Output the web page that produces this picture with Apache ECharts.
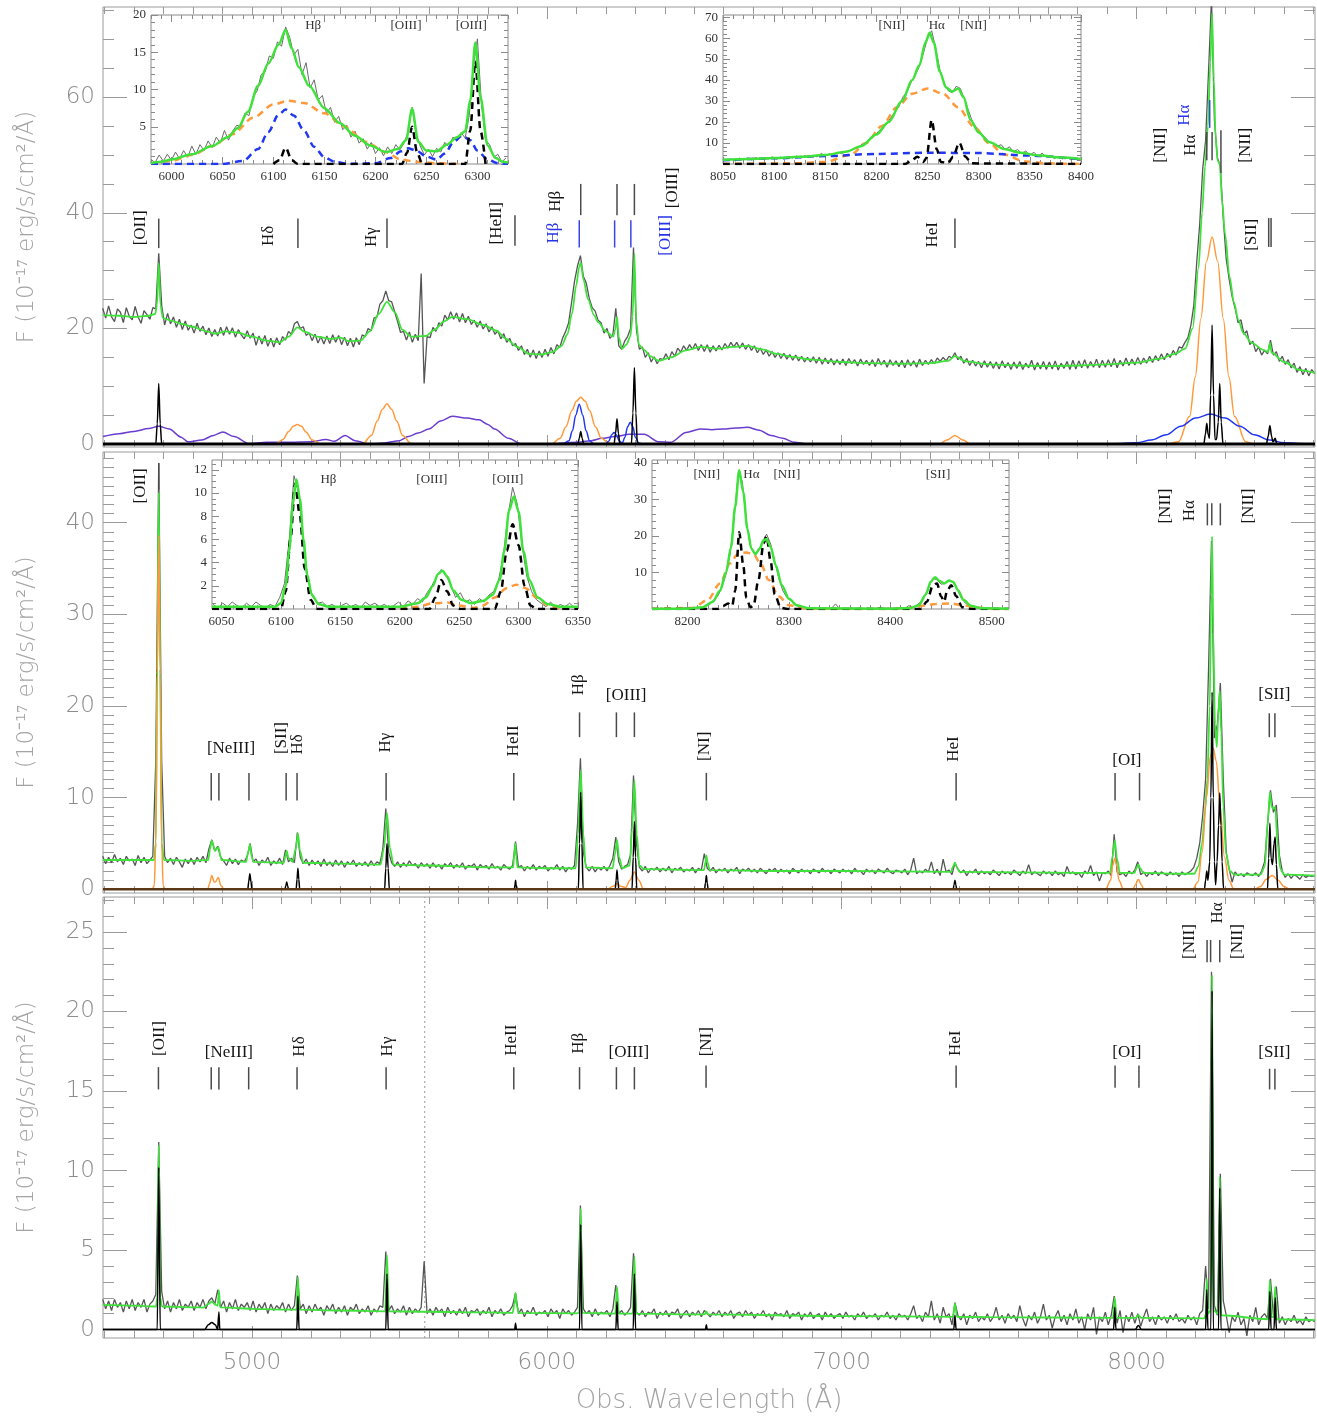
<!DOCTYPE html>
<html><head><meta charset="utf-8">
<script src="https://cdn.jsdelivr.net/npm/echarts/dist/echarts.min.js"></script>
<style>html,body{margin:0;padding:0;background:#fff}#c{width:1317px;height:1420px}</style>
</head><body><div id="c"></div>
<script>
// ---------------- DATA ----------------
const OBS_START = 4494, OBS_STEP = 10;   // wavelength grid of the observed spectra (Å)

// Panel 1 : observed spectrum (grey)
const p1Observed = [
23.5,21.8,23.9,22.0,21.2,23.4,22.8,21.0,23.6,22.1,
21.5,23.8,22.0,20.9,23.1,22.4,21.6,23.6,23.4,33.0,
24.0,20.6,22.6,20.8,22.0,20.2,21.6,19.8,21.3,19.7,
20.6,19.2,20.9,19.5,20.4,18.9,20.1,18.6,19.8,18.7,
20.2,18.8,20.3,19.0,20.1,18.5,19.8,18.9,18.2,19.6,
18.3,19.2,17.1,18.7,17.3,18.8,16.9,18.3,16.8,18.4,
17.2,18.6,18.0,19.5,19.0,20.8,21.2,20.0,20.3,18.8,
19.2,17.9,19.0,17.5,18.6,17.3,18.7,17.4,18.9,17.6,
18.8,17.2,18.5,17.0,18.3,16.8,18.4,17.2,18.9,18.6,
20.0,19.6,21.8,22.0,24.2,24.8,26.5,24.8,24.6,22.9,
21.2,19.3,19.5,18.0,19.4,17.6,19.0,17.9,29.5,10.5,
18.6,18.4,20.2,19.5,21.0,20.4,22.3,21.5,22.9,21.6,
22.7,21.1,22.6,21.0,22.1,20.7,21.4,20.2,21.3,19.9,
20.8,19.4,20.3,19.0,19.6,18.2,19.1,17.6,18.3,17.0,
17.4,16.2,17.0,15.5,16.4,15.0,16.3,14.8,16.1,15.0,
16.4,15.2,16.7,15.6,17.2,16.7,18.4,19.5,21.0,24.5,
28.2,30.8,32.6,29.0,27.8,25.2,23.6,23.0,21.4,21.0,
19.2,20.0,18.3,18.9,23.5,17.0,16.4,17.8,18.6,20.0,
34.0,19.8,16.4,16.8,15.0,15.8,14.2,15.1,13.9,14.8,
14.6,15.6,14.6,16.0,15.2,16.6,15.9,17.0,16.2,17.2,
16.4,17.4,16.2,17.2,16.0,17.2,15.9,17.0,16.1,17.1,
16.3,17.4,16.6,17.6,16.8,17.6,16.6,17.5,16.4,17.2,
16.2,17.0,15.8,16.6,15.5,16.3,15.2,16.0,15.0,15.8,
14.8,15.7,14.7,15.5,14.5,15.4,14.4,15.2,14.2,15.0,
14.2,15.1,14.0,15.0,13.8,14.9,13.9,14.8,13.7,14.6,
13.8,14.7,13.6,14.8,13.9,14.6,13.5,14.7,13.8,14.5,
13.6,14.6,13.4,14.8,13.7,14.5,13.3,14.6,13.6,14.4,
13.4,14.5,13.2,14.6,13.5,14.4,13.3,14.7,13.6,14.5,
13.8,14.6,13.9,14.9,14.3,15.0,14.4,15.2,14.9,15.8,
14.6,15.2,14.0,14.8,13.6,14.5,13.5,14.3,13.2,14.4,
13.3,14.3,13.1,14.2,13.0,14.4,13.2,14.1,12.9,14.2,
13.1,14.3,12.9,14.0,13.2,14.5,12.8,14.1,13.0,14.3,
12.9,14.2,13.0,14.4,12.8,14.0,13.1,14.3,12.9,14.5,
13.0,14.4,13.2,14.6,13.1,14.3,13.3,14.7,13.2,14.5,
13.3,14.6,13.4,14.8,13.2,14.5,13.5,14.9,13.6,14.7,
13.7,15.0,13.8,14.9,14.0,15.2,14.1,15.3,14.4,15.6,
14.6,15.7,15.0,16.2,15.4,16.8,16.6,17.6,18.4,20.5,
24.0,31.5,38.0,47.5,52.5,64.5,77.0,56.0,49.5,48.0,
39.0,32.0,28.5,25.5,23.5,21.0,21.5,19.0,19.6,17.2,
17.8,16.0,16.8,15.4,16.2,15.6,18.0,15.4,16.0,14.3,
15.2,13.8,14.6,13.2,14.0,12.4,13.4,12.0,13.1,11.8,
12.9,12.2];
const p1Model = [[4495,22.3],[4550,22.2],[4600,22.0],[4650,22.2],[4672,22.5],[4678,24.0],[4684,31.3],[4690,24.0],[4698,21.8],[4730,21.3],[4760,20.8],[4800,20.3],[4840,19.6],[4875,19.1],[4910,19.5],[4950,19.3],[5000,18.6],[5050,17.9],[5095,17.6],[5125,18.6],[5154,20.2],[5180,19.4],[5220,18.6],[5265,18.2],[5300,18.4],[5330,17.8],[5368,17.9],[5400,19.5],[5430,22.5],[5458,24.6],[5485,22.8],[5510,19.8],[5540,18.6],[5589,18.7],[5620,19.8],[5650,21.2],[5680,22.0],[5730,21.6],[5784,20.6],[5830,19.6],[5862,18.2],[5900,16.8],[5940,15.6],[5980,15.5],[6018,15.9],[6050,17.0],[6070,19.0],[6085,22.5],[6100,27.5],[6109,30.5],[6115,31.4],[6124,28.5],[6140,25.0],[6160,22.3],[6174,21.1],[6200,19.5],[6225,18.6],[6232,19.8],[6238,22.0],[6244,18.5],[6255,16.5],[6270,17.2],[6283,18.6],[6291,22.0],[6297,32.9],[6303,21.5],[6312,17.2],[6330,16.3],[6350,15.2],[6380,14.4],[6420,15.0],[6472,16.2],[6520,16.8],[6580,16.5],[6630,16.8],[6680,17.0],[6730,16.4],[6780,15.6],[6830,15.1],[6900,14.6],[7000,14.2],[7100,14.0],[7200,13.9],[7300,14.0],[7360,14.4],[7384,15.2],[7420,14.3],[7500,13.8],[7600,13.6],[7700,13.5],[7800,13.6],[7900,13.8],[8000,14.1],[8080,14.8],[8130,15.6],[8165,16.5],[8190,20.0],[8210,30.5],[8222,40.0],[8232,48.0],[8242,55.0],[8250,66.0],[8256,74.5],[8262,63.0],[8268,53.0],[8275,49.0],[8282,48.5],[8290,42.0],[8300,36.4],[8315,29.0],[8330,24.5],[8345,21.5],[8362,19.2],[8390,17.5],[8430,16.3],[8446,15.9],[8452,17.5],[8458,15.8],[8500,14.2],[8554,12.8],[8605,12.3]];
const p1FeTemplate = [[4495,1.3],[4550,1.8],[4600,2.2],[4650,2.7],[4684,3.1],[4720,2.6],[4760,1.2],[4783,0.4],[4830,0.7],[4870,1.5],[4901,2.1],[4940,1.3],[4990,0.1],[5050,0.3],[5120,0.3],[5200,0.4],[5251,0.8],[5280,0.5],[5316,1.5],[5350,0.6],[5400,0.0],[5450,0.2],[5500,0.6],[5530,1.3],[5563,1.9],[5600,2.6],[5640,4.0],[5680,4.8],[5730,4.5],[5770,4.2],[5800,3.4],[5823,2.6],[5870,1.0],[5914,0.0],[6000,0.0],[6100,0.3],[6150,0.6],[6187,1.0],[6230,1.3],[6280,1.7],[6330,1.7],[6380,0.4],[6420,0.3],[6472,2.0],[6520,2.6],[6560,2.5],[6600,2.6],[6640,2.8],[6680,2.9],[6720,2.4],[6760,1.5],[6800,1.0],[6840,0.3],[6880,0.0]];
const p1BroadOrange = [[4495,0],[5080,0],[5105,0.8],[5125,2.2],[5140,3.1],[5154,3.4],[5168,3.1],[5183,2.1],[5205,0.7],[5235,0],[5375,0],[5405,1.5],[5425,4.0],[5442,6.0],[5458,7.0],[5474,6.0],[5491,4.0],[5511,1.5],[5540,0.1],[5560,0],[6015,0],[6045,1.0],[6065,3.0],[6085,5.8],[6100,7.4],[6115,8.1],[6130,7.4],[6145,5.8],[6165,3.0],[6185,1.0],[6210,0.2],[6230,0],[7330,0],[7357,0.7],[7384,1.5],[7411,0.7],[7438,0],[8100,0],[8142,0.4],[8180,4.8],[8199,11.6],[8218,21.7],[8237,31.6],[8256,35.8],[8275,31.6],[8294,21.7],[8313,11.6],[8332,4.8],[8370,0.4],[8400,0],[8605,0]];
const p1BroadBlue = [[4495,0],[6055,0],[6075,0.6],[6087,2.3],[6098,5.0],[6110,6.9],[6122,5.0],[6133,2.3],[6145,0.6],[6160,0],[6198,0],[6210,0.5],[6220,1.6],[6228,2.0],[6236,1.6],[6246,0.5],[6256,0.2],[6265,1.2],[6274,3.0],[6283,3.8],[6292,3.0],[6300,1.2],[6312,0.2],[6325,0],[7900,0],[7950,0.1],[8000,0.25],[8050,0.7],[8100,1.6],[8150,3.1],[8200,4.5],[8250,5.2],[8300,4.5],[8350,3.1],[8400,1.6],[8450,0.7],[8500,0.25],[8550,0.1],[8605,0]];
const p1NarrowBlack = [[4495,0],[4674,0],[4679,3.5],[4684,10.5],[4689,3.5],[4694,0],[6105,0],[6110,1.0],[6115,2.2],[6120,1.0],[6125,0],[6228,0],[6233,1.8],[6238,4.4],[6243,1.8],[6248,0],[6287,0],[6292,5.4],[6297,13.2],[6302,5.4],[6307,0],[8228,0],[8233,1.6],[8238,3.6],[8243,1.6],[8247,1.0],[8251,8.5],[8256,20.6],[8261,8.5],[8266,0.8],[8271,0.8],[8277,3.8],[8282,10.5],[8287,3.8],[8293,0],[8440,0],[8446,1.3],[8452,3.2],[8458,1.3],[8462,0.4],[8470,1.0],[8476,0],[8605,0]];
const zeroLine = [[4495,0],[8605,0]];

// Panel 1 inset A (Hβ + [OIII])
const p1aStart = 5980, p1aStep = 4;
const p1aObserved = [
0.6,0.2,1.2,0.4,1.3,0.5,1.6,0.7,1.8,0.9,
2.4,1.3,2.6,1.8,3.1,2.2,3.6,2.8,4.5,3.2,
4.4,5.2,5.0,6.8,6.5,9.0,9.8,12.0,12.4,14.5,
14.2,16.4,15.8,18.4,17.0,14.6,15.4,12.0,13.6,10.2,
11.3,8.6,9.2,6.8,7.6,5.6,6.4,4.6,5.2,3.6,
4.4,2.8,3.4,2.0,2.9,1.4,2.2,1.1,2.3,1.4,
2.6,1.9,2.8,4.2,7.6,4.0,2.4,1.2,2.0,1.0,
2.1,1.6,2.9,2.3,3.6,3.1,4.2,3.5,6.5,13.0,
16.8,8.0,3.2,2.6,0.9,1.3,0.3,0.8];
const p1aModel = [[5980,0.1],[5990,0.3],[6000,0.6],[6020,1.3],[6040,2.4],[6055,3.6],[6065,4.8],[6075,7.0],[6085,10.5],[6095,13.5],[6105,16.0],[6112,18.0],[6118,15.5],[6125,13.0],[6135,10.5],[6150,7.5],[6165,5.5],[6180,3.8],[6195,2.5],[6210,1.6],[6222,2.0],[6230,3.2],[6236,7.4],[6242,3.0],[6250,1.8],[6260,1.7],[6270,2.6],[6280,3.6],[6288,4.4],[6293,8.5],[6298,16.3],[6303,9.0],[6310,2.5],[6318,0.8],[6325,0.3],[6330,0.2]];
const p1aBroadOrange = [[5980,0],[6000,0.4],[6020,1.2],[6040,2.4],[6060,4.0],[6080,6.2],[6100,8.0],[6115,8.5],[6130,8.2],[6150,6.8],[6170,5.0],[6190,3.0],[6210,1.6],[6225,0.6],[6240,0.3],[6260,0.1],[6280,0]];
const p1aBroadBlue = [[5980,0],[6050,0],[6070,0.4],[6085,2.0],[6095,4.3],[6105,6.6],[6112,7.3],[6120,6.5],[6130,4.5],[6140,2.3],[6150,0.9],[6160,0.3],[6175,0],[6200,0.1],[6215,0.8],[6225,1.7],[6232,2.1],[6240,1.8],[6250,1.0],[6260,0.6],[6268,1.4],[6277,3.0],[6285,3.8],[6293,3.2],[6300,1.8],[6310,0.6],[6320,0.1],[6330,0]];
const p1aNarrowBlack = [[6100,0],[6106,0.5],[6112,2.2],[6118,0.5],[6124,0],[6226,0],[6231,1.5],[6236,5.0],[6241,1.5],[6246,0],[6288,0],[6293,4.5],[6298,13.8],[6303,4.5],[6308,0]];

// Panel 1 inset B (Hα + [NII])
const p1bStart = 8050, p1bStep = 4;
const p1bObserved = [
2.6,1.6,2.4,1.4,2.8,1.9,2.9,2.0,3.1,2.2,
2.9,2.3,3.4,2.5,3.3,2.4,3.6,2.8,3.8,2.9,
4.0,3.2,3.9,3.4,5.0,3.9,4.9,4.2,5.6,4.9,
6.0,6.4,7.2,7.7,9.6,10.0,12.3,13.2,15.6,17.5,
19.0,22.0,24.8,27.5,32.0,34.5,39.0,42.5,46.5,53.0,
60.0,63.5,55.0,45.0,39.0,35.0,34.0,37.0,36.0,31.0,
25.5,20.0,17.2,14.4,12.8,10.6,10.0,8.4,9.2,6.8,
8.2,5.8,6.9,5.0,6.2,4.2,5.6,3.6,5.2,3.2,
4.0,2.6,3.6,2.4,3.2,2.0,2.8,1.9];
const p1bModel = [[8050,2.0],[8075,2.4],[8100,2.9],[8125,3.4],[8150,4.3],[8170,5.8],[8185,8.5],[8200,14.0],[8212,20.0],[8225,30.0],[8235,40.0],[8242,47.0],[8248,58.0],[8252,62.5],[8256,58.0],[8262,44.0],[8268,36.5],[8274,34.5],[8280,36.0],[8285,32.0],[8292,21.0],[8300,15.0],[8310,10.5],[8325,7.2],[8340,5.4],[8360,4.0],[8380,3.1],[8400,2.4]];
const p1bBroadOrange = [[8050,0],[8120,0.3],[8150,1.0],[8175,4.5],[8190,10],[8205,18],[8220,27],[8235,33.5],[8250,36],[8265,33.5],[8280,27],[8295,18],[8310,10],[8325,4.5],[8345,1.2],[8370,0.2],[8400,0]];
const p1bBroadBlue = [[8050,1.8],[8100,2.7],[8150,3.8],[8200,4.8],[8250,5.4],[8300,5.2],[8350,4.0],[8400,2.2]];
const p1bNarrowBlack = [[8050,0],[8228,0],[8234,1.5],[8240,3.5],[8246,1.0],[8249,3],[8254,21],[8259,7],[8263,1.0],[8270,0.5],[8275,3.5],[8281,10.2],[8287,3.5],[8293,0.3],[8400,0]];

// Panel 2
const p2Observed = [
3.6,2.8,3.5,2.9,3.8,3.0,3.4,2.7,3.6,3.1,
3.3,2.6,3.7,2.9,3.5,2.8,3.2,3.6,14.0,46.5,
14.0,3.6,2.9,3.4,2.7,3.5,3.0,2.4,3.3,2.8,
3.4,2.7,3.5,3.0,3.6,2.9,4.4,5.4,4.2,4.7,
3.5,3.1,2.6,3.4,2.8,3.3,2.7,3.2,3.0,3.6,
5.0,3.0,3.3,2.6,3.2,2.9,3.5,2.6,3.1,2.8,
3.4,2.7,4.3,3.0,3.4,2.9,6.2,3.5,2.8,3.3,
2.6,3.2,2.7,3.1,2.5,3.3,2.6,3.0,2.5,3.2,
2.6,3.1,2.4,3.0,2.7,3.2,2.5,2.9,2.6,3.0,
2.5,3.1,2.6,3.0,2.8,4.4,8.8,4.0,2.9,2.5,
3.0,2.4,2.9,2.5,3.1,2.6,2.8,2.3,2.9,2.5,
2.8,2.3,2.9,2.4,2.7,2.2,2.8,2.5,2.9,2.3,
2.7,2.4,2.9,2.2,2.6,2.5,2.8,2.1,2.7,2.4,
2.6,2.2,2.8,2.3,2.5,2.1,2.7,2.4,2.2,2.6,
5.2,2.4,2.6,2.0,2.5,2.2,2.7,2.1,2.5,2.3,
2.6,2.0,2.4,2.2,2.7,2.1,2.5,1.9,2.4,2.2,
2.6,7.0,14.3,4.0,2.4,2.0,2.5,1.9,2.4,2.1,
2.5,2.0,2.6,3.4,5.7,3.0,2.2,2.5,2.7,3.8,
12.4,5.0,2.4,2.0,2.5,1.8,2.3,2.1,2.4,1.9,
2.3,2.0,2.5,1.8,2.3,2.1,2.4,1.9,2.2,2.0,
2.4,1.8,2.3,2.1,3.9,2.3,2.0,2.4,1.8,2.2,
2.0,2.3,1.8,2.2,2.0,2.4,1.7,2.2,2.0,2.3,
1.9,2.2,1.8,2.3,2.0,1.7,2.2,2.0,2.3,1.8,
2.2,1.9,2.1,1.7,2.3,2.0,1.8,2.2,1.9,2.1,
1.7,2.2,2.0,1.8,2.3,1.9,2.1,1.7,2.2,2.0,
1.8,2.2,1.9,2.1,1.7,2.3,1.9,2.0,1.6,2.2,
1.9,2.1,1.7,2.2,2.0,1.8,2.3,1.9,1.7,2.1,
2.0,1.8,2.2,1.6,2.1,3.4,1.7,2.0,1.8,2.2,
1.9,3.0,1.7,2.2,1.5,3.3,1.9,2.1,1.6,2.9,
2.2,1.8,2.1,1.5,2.0,1.8,2.2,1.6,2.0,1.7,
1.9,1.6,2.1,1.8,1.5,2.0,1.7,1.9,1.6,2.1,
1.8,1.5,2.0,1.7,2.7,1.6,1.9,1.7,1.5,2.0,
1.7,1.9,1.5,2.0,1.6,1.8,1.4,2.5,1.7,1.9,
1.6,1.8,1.3,2.0,1.7,2.6,1.5,1.9,0.9,1.8,
1.7,2.0,1.5,6.0,1.9,1.6,1.8,1.4,2.0,1.7,
2.1,3.0,1.6,1.9,1.4,1.8,1.6,2.0,1.5,1.9,
1.7,1.5,1.9,1.6,1.8,1.4,1.9,1.6,1.8,2.0,
2.4,3.4,5.0,8.0,12.0,24.0,38.0,16.5,18.0,22.5,
12.0,4.0,2.2,0.8,1.9,1.5,1.7,1.4,1.8,1.6,
1.5,1.8,1.4,2.0,3.0,7.0,10.8,8.4,9.2,3.8,
2.0,1.3,1.7,1.2,1.6,1.4,1.1,1.6,1.3,1.5,
1.4,1.5];
const p2Model = [[4495,3.2],[4600,3.2],[4668,3.2],[4674,5],[4679,24],[4684,43.3],[4689,24],[4694,5],[4702,3.2],[4800,3.1],[4852,3.2],[4858,4.4],[4864,5.3],[4875,4.2],[4886,4.6],[4897,3.2],[4980,3.0],[4987,4.0],[4993,4.9],[4999,3.6],[5005,3.0],[5108,2.9],[5114,3.7],[5118,4.2],[5124,3.4],[5138,3.0],[5149,4.5],[5156,6.1],[5163,4.2],[5174,2.9],[5300,2.8],[5436,2.7],[5448,4.5],[5458,8.3],[5468,4.5],[5480,2.7],[5600,2.6],[5800,2.4],[5886,2.4],[5890,4.0],[5893,5.0],[5896,3.6],[5901,2.4],[6000,2.3],[6098,2.3],[6106,6],[6115,13.0],[6124,6],[6132,2.4],[6223,2.3],[6231,3.8],[6238,5.4],[6245,3.5],[6256,2.3],[6281,2.6],[6289,6.5],[6297,11.9],[6305,6.0],[6314,2.6],[6330,2.2],[6533,2.1],[6538,3.0],[6541,3.7],[6545,2.9],[6553,2.1],[6800,2.0],[7000,2.0],[7370,1.9],[7378,2.5],[7384,2.9],[7390,2.4],[7400,1.9],[7800,1.8],[7910,1.8],[7918,3.5],[7926,5.3],[7934,3.3],[7943,1.8],[7993,1.8],[8001,2.4],[8006,2.7],[8012,2.3],[8023,1.8],[8150,1.7],[8195,1.7],[8210,2.5],[8222,5],[8232,8.5],[8240,12],[8248,20],[8253,32],[8256,38.5],[8260,28],[8266,18],[8272,15.5],[8277,19],[8282,21.7],[8287,17],[8294,9],[8303,4],[8316,2.0],[8333,1.6],[8420,1.6],[8435,2.5],[8445,7.5],[8452,10.6],[8458,9.0],[8463,8.8],[8470,9.0],[8478,5.0],[8488,2.2],[8500,1.6],[8605,1.5]];
const p2BroadOrange = [[4495,0],[4662,0],[4669,0.4],[4674,5.2],[4679,23.4],[4684,38.6],[4689,23.4],[4694,5.2],[4699,0.4],[4706,0],[4850,0],[4856,0.6],[4864,1.5],[4872,0.8],[4876,0.8],[4886,1.3],[4895,0.4],[4905,0],[6205,0],[6222,0.3],[6238,0.6],[6253,0.3],[6268,0.2],[6282,1.0],[6297,1.9],[6312,1.0],[6328,0],[7895,0],[7912,1.0],[7919,2.6],[7926,3.4],[7933,2.6],[7940,1.0],[7955,0],[7988,0],[7996,0.5],[8006,1.1],[8016,0.5],[8024,0],[8190,0],[8208,0.8],[8222,4],[8237,10],[8250,14.5],[8260,15.4],[8270,14],[8283,9],[8298,3.5],[8313,1],[8330,0],[8400,0],[8420,0.3],[8440,1.1],[8460,1.5],[8480,1.0],[8500,0.3],[8520,0],[8605,0]];
const p2NarrowBlack = [[4495,0],[4986,0],[4989,0.8],[4993,1.7],[4997,0.8],[5000,0],[5112,0],[5115,0.4],[5118,0.8],[5121,0.4],[5124,0],[5150,0],[5153,1.1],[5156,2.3],[5159,1.1],[5162,0],[5450,0],[5454,2.3],[5458,5.0],[5462,2.3],[5466,0],[5890,0],[5892,0.5],[5894,1.0],[5896,0.5],[5898,0],[6107,0],[6111,5.0],[6115,10.6],[6119,5.0],[6123,0],[6232,0],[6235,1.0],[6238,2.1],[6241,1.0],[6244,0],[6289,0],[6293,3.5],[6297,7.4],[6301,3.5],[6305,0],[6535,0],[6538,0.7],[6541,1.5],[6544,0.7],[6547,0],[7378,0],[7381,0.5],[7384,1.0],[7387,0.5],[7390,0],[8230,0],[8234,1.0],[8238,2.0],[8242,1.0],[8248,3],[8252,10],[8256,21.5],[8260,10],[8264,3],[8268,0.5],[8273,3],[8278,7],[8282,10.5],[8286,7],[8290,3],[8295,0],[8444,0],[8448,3.4],[8452,7.2],[8456,3.4],[8461,2.7],[8466,5.0],[8470,5.7],[8474,2.7],[8479,0],[8605,0]];

// Panel 2 inset A (Hβ + [OIII])
const p2aStart = 6043, p2aStep = 4;
const p2aObserved = [
0.4,0.1,0.5,0.2,0.6,0.3,0.1,0.5,0.2,0.6,
0.3,0.1,0.4,0.2,1.0,2.2,6.0,11.5,10.0,5.5,
2.4,1.0,0.5,0.6,0.2,0.4,0.1,0.3,0.5,0.2,
0.4,0.1,0.6,0.3,0.5,0.2,0.4,0.1,0.3,0.6,
0.2,0.7,0.4,0.9,0.6,1.4,2.0,2.8,3.4,2.9,
2.0,1.0,1.4,0.6,0.8,0.4,0.9,0.6,1.2,1.5,
2.4,4.5,8.0,10.5,9.0,5.4,2.8,1.5,0.8,0.5,
0.2,0.6,0.1,0.4,0.2,0.5,0.1];
const p2aModel = [[6042,0.2],[6095,0.2],[6100,0.5],[6104,2.0],[6107,5.0],[6110,9.0],[6113,11.2],[6116,9.5],[6119,6.0],[6122,3.0],[6126,1.2],[6132,0.4],[6140,0.2],[6200,0.2],[6215,0.5],[6222,1.0],[6228,2.0],[6232,3.0],[6236,3.3],[6240,2.8],[6245,1.6],[6252,0.8],[6260,0.5],[6270,0.7],[6278,1.2],[6284,2.5],[6288,5.0],[6292,8.5],[6296,9.7],[6300,8.4],[6304,5.0],[6309,2.5],[6316,1.0],[6325,0.4],[6335,0.2],[6350,0.2]];
const p2aBroadOrange = [[6200,0],[6215,0.2],[6228,0.5],[6240,0.55],[6250,0.3],[6262,0.1],[6270,0.3],[6280,1.0],[6290,1.8],[6298,2.1],[6306,1.8],[6315,1.0],[6325,0.3],[6335,0]];
const p2aNarrowBlack = [[6042,0],[6100,0],[6104,1.5],[6108,6],[6112,10.8],[6116,8],[6120,3.5],[6125,0.8],[6130,0],[6225,0],[6230,1.0],[6235,2.5],[6240,1.5],[6245,0.3],[6250,0],[6280,0],[6285,1.5],[6290,5.0],[6295,7.3],[6300,5.5],[6305,2.0],[6310,0.3],[6315,0],[6350,0]];

// Panel 2 inset B (Hα + [NII] + [SII])
const p2bStart = 8166, p2bStep = 4;
const p2bObserved = [
0.2,-0.1,0.3,0.0,0.2,-0.2,0.3,0.1,0.4,0.0,
0.3,0.5,0.2,0.9,1.2,2.6,3.6,6.0,9.5,15.0,
25.0,37.0,35.0,24.0,17.5,15.2,15.8,18.5,20.5,17.8,
13.0,8.5,5.0,3.2,2.2,1.3,0.6,0.3,0.4,0.0,
0.2,-0.1,0.3,0.1,0.2,1.4,0.0,0.2,-0.1,0.3,
0.1,0.2,0.0,0.3,-0.1,0.2,0.4,0.1,0.3,0.0,
0.2,0.4,0.1,0.9,0.5,1.0,2.0,3.6,6.2,8.4,
8.0,6.8,7.0,7.9,7.2,5.4,3.0,1.6,0.9,0.6,
0.2,0.4,0.1,0.3,0.0,0.2,-0.1,0.2];
const p2bModel = [[8165,0],[8200,0.1],[8215,0.5],[8225,2.0],[8232,5.0],[8238,10.0],[8243,17],[8247,28],[8251,38.0],[8255,32],[8259,22],[8263,16.5],[8267,15.0],[8271,16.5],[8275,18.8],[8278,19.2],[8282,17],[8287,12],[8293,6.5],[8300,2.8],[8308,1.0],[8320,0.2],[8400,0.1],[8420,0.3],[8428,1.0],[8435,4.0],[8440,7.5],[8444,8.7],[8449,7.6],[8453,7.0],[8458,7.8],[8462,7.4],[8467,5.0],[8472,2.5],[8480,0.8],[8490,0.2],[8517,0.1]];
const p2bBroadOrange = [[8165,0],[8205,0.3],[8220,2.5],[8232,7],[8242,12.5],[8250,15.2],[8258,15.5],[8265,15.0],[8272,12.5],[8280,8],[8290,3.5],[8300,1.0],[8320,0],[8400,0],[8420,0.3],[8432,0.9],[8445,1.4],[8460,1.5],[8472,1.0],[8485,0.4],[8500,0],[8517,0]];
const p2bNarrowBlack = [[8165,0],[8230,0],[8235,0.8],[8240,1.5],[8244,0.8],[8247,5],[8251,21],[8255,12],[8258,3],[8262,0.5],[8265,0.8],[8270,8],[8275,18],[8278,20],[8282,13],[8286,4],[8292,0.3],[8300,0],[8430,0],[8436,2],[8442,6.5],[8446,7.0],[8450,3.5],[8453,2],[8456,5],[8460,6.5],[8465,3.5],[8471,0.5],[8480,0],[8517,0]];

// Panel 3
const p3Observed = [
1.9,1.3,1.8,1.2,1.9,1.4,1.7,1.1,1.8,1.3,
1.9,1.2,1.7,1.4,1.9,1.1,1.6,1.8,2.2,11.8,
2.4,1.3,1.8,1.1,1.7,1.3,1.9,1.2,1.6,1.4,
1.8,1.2,1.7,1.4,1.9,1.3,1.8,2.0,1.6,2.5,
1.4,1.8,1.1,1.7,1.3,1.9,1.2,1.6,1.4,1.7,
1.2,1.8,1.1,1.6,1.3,1.7,1.0,1.6,1.2,1.5,
1.3,1.7,1.1,1.6,1.2,1.5,3.4,1.3,1.6,1.0,
1.5,1.1,1.6,1.2,1.4,0.9,1.5,1.2,1.6,1.0,
1.4,1.1,1.5,0.9,1.4,1.2,1.6,1.0,1.3,1.1,
1.5,0.9,1.3,1.1,1.5,1.4,4.9,1.2,1.5,1.0,
1.3,1.1,1.5,0.9,1.4,1.0,1.3,1.1,1.4,4.3,
1.0,1.3,0.9,1.4,1.1,1.3,0.8,1.4,1.0,1.2,
0.9,1.3,1.0,1.4,0.8,1.2,1.1,1.3,0.9,1.2,
1.0,1.4,0.8,1.2,1.0,1.3,0.9,1.1,1.2,1.5,
2.3,1.0,1.3,0.8,1.2,1.0,1.4,0.9,1.1,1.0,
1.2,0.8,1.3,1.0,1.2,0.7,1.3,1.0,1.2,0.9,
1.1,1.4,7.8,1.3,1.0,1.2,0.8,1.3,0.9,1.1,
1.0,1.2,0.8,1.3,2.8,1.0,1.2,0.9,1.1,1.4,
4.8,1.1,0.9,1.2,0.8,1.1,1.0,1.3,0.7,1.1,
0.9,1.2,0.8,1.1,1.0,1.3,0.7,1.0,1.2,0.8,
1.1,0.9,1.2,0.8,1.2,1.0,0.8,1.1,0.9,1.2,
0.8,1.1,0.9,1.2,0.7,1.0,1.1,0.8,1.2,0.9,
1.1,0.7,1.0,0.9,1.2,0.8,1.0,0.6,1.1,0.9,
1.0,0.8,1.2,0.7,1.0,0.9,1.1,0.6,1.0,0.8,
1.1,0.7,0.9,1.0,0.6,1.1,0.8,1.0,0.7,0.9,
1.0,0.7,1.1,0.8,0.9,0.6,1.0,0.8,1.1,0.7,
0.9,0.8,1.0,0.6,0.9,0.8,1.1,0.7,0.9,0.6,
1.0,0.8,0.9,0.6,1.0,1.5,0.7,0.9,0.5,1.1,
0.8,1.8,0.6,1.0,0.4,1.4,0.8,1.0,0.3,1.7,
0.9,0.6,1.0,0.3,0.9,0.7,1.1,0.5,0.8,0.6,
1.0,0.5,0.8,1.4,0.6,0.9,0.4,1.0,0.7,0.9,
0.5,1.5,0.7,0.2,0.9,0.6,1.1,0.4,0.8,1.6,
0.6,0.9,0.1,0.8,1.2,0.5,0.9,0.3,1.0,0.6,
1.3,0.4,0.8,0.0,1.0,0.6,1.4,-0.3,0.8,0.5,
1.1,0.3,0.9,2.1,0.4,1.2,-0.2,0.9,0.5,1.1,
0.4,1.0,0.2,0.8,1.3,0.5,0.8,0.3,0.9,0.6,
0.8,0.4,0.9,0.6,1.0,0.5,0.7,0.4,0.9,0.6,
0.8,0.3,1.0,1.2,4.0,1.3,22.5,1.5,0.9,9.8,
1.8,0.9,-0.2,0.8,0.5,1.1,0.3,0.7,-0.4,0.9,
0.5,1.4,0.3,0.8,1.0,0.7,3.2,0.9,2.7,0.4,
0.8,0.3,0.7,0.5,0.9,0.4,0.6,0.3,0.8,0.5,
0.6,0.5];
const p3Model = [[4495,1.55],[4600,1.5],[4675,1.45],[4679,2],[4684,11.6],[4689,2],[4695,1.45],[4800,1.4],[4836,1.38],[4850,1.6],[4864,1.75],[4878,1.55],[4884,1.5],[4888,2.5],[4892,1.4],[4950,1.35],[5000,1.3],[5100,1.26],[5151,1.25],[5156,3.3],[5161,1.25],[5300,1.2],[5452,1.15],[5458,4.7],[5464,1.15],[5600,1.12],[5800,1.08],[5884,1.05],[5890,1.6],[5894,2.3],[5898,1.5],[5905,1.05],[6100,1.02],[6110,1.05],[6115,7.6],[6120,1.05],[6232,1.0],[6238,2.7],[6244,1.0],[6291,1.0],[6297,4.6],[6303,1.0],[6535,0.95],[6541,1.15],[6547,0.95],[7000,0.85],[7377,0.8],[7384,1.65],[7391,0.8],[7500,0.78],[7920,0.74],[7926,2.0],[7932,0.74],[7996,0.73],[8006,0.9],[8016,0.73],[8230,0.7],[8235,1.0],[8238,3.2],[8242,1.0],[8251,1.2],[8256,22.3],[8261,1.2],[8277,1.0],[8282,9.6],[8287,0.9],[8446,0.65],[8452,3.1],[8457,0.8],[8465,0.8],[8470,2.7],[8475,0.65],[8605,0.6]];
const p3NarrowBlack = [[4495,0],[4679,0],[4684,10.2],[4689,0],[4840,0],[4852,0.3],[4864,0.45],[4876,0.3],[4884,0],[4885,0],[4888,1.1],[4891,0],[5152,0],[5156,2.1],[5160,0],[5454,0],[5458,3.5],[5462,0],[5891,0],[5894,0.4],[5897,0],[6111,0],[6115,6.6],[6119,0],[6234,0],[6238,1.75],[6242,0],[6293,0],[6297,3.5],[6301,0],[6538,0],[6541,0.3],[6544,0],[7380,0],[7384,0.9],[7388,0],[7922,0],[7926,1.4],[7930,0],[7995,0],[8006,0.25],[8017,0],[8234,0],[8238,2.5],[8242,0],[8252,0],[8256,21.3],[8260,0],[8278,0],[8282,8.9],[8286,0],[8448,0],[8452,2.4],[8456,0],[8466,0],[8470,2.0],[8474,0],[8605,0]];
const p3DottedLine = [[5586,-0.53,27.2]];

// Line identification markers: [wavelength, y from, y to]
const p1Marks = [[4684,33.9,39.0],[5156,33.9,39.0],[5458,33.9,39.0],[5892,34.3,39.6],[6115,39.6,45.0],[6238,39.6,45.0],[6297,39.6,45.0],[7384,33.9,39.0],[8448,34.1,39.1],[8456,34.1,39.1],[8238,49.1,54.0],[8256,49.1,54.0],[8286,46.9,54.3]];
const p1BlueMarks = [[6110,34.0,38.7],[6230,34.0,38.7],[6285,34.0,38.7],[8248,54.7,59.5]];
const p2Marks = [[4684,43.6,46.5],[4862,9.7,12.7],[4888,9.7,12.7],[4990,9.7,12.7],[5116,9.7,12.7],[5153,9.7,12.7],[5455,9.7,12.7],[5888,9.7,12.7],[6111,16.6,19.3],[6236,16.6,19.3],[6297,16.6,19.3],[6541,9.7,12.7],[7388,9.7,12.7],[7927,9.7,12.7],[8010,9.7,12.7],[8240,39.7,42.1],[8255,39.7,42.1],[8284,39.7,42.1],[8450,16.6,19.2],[8469,16.6,19.2]];
const p3Marks = [[4683,15.1,16.5],[4862,15.1,16.5],[4888,15.1,16.5],[4989,15.1,16.5],[5153,15.1,16.5],[5455,15.1,16.5],[5888,15.1,16.5],[6111,15.1,16.5],[6236,15.1,16.5],[6297,15.1,16.5],[6540,15.2,16.6],[7388,15.2,16.6],[7927,15.2,16.6],[8008,15.2,16.6],[8239,23.1,24.5],[8251,23.1,24.5],[8282,23.1,24.5],[8451,15.1,16.4],[8469,15.1,16.4]];

// Line labels: [text, wavelength, y, rotated]
const p1Labels = [['[OII]',4622,37.4,1],['Hδ',5057,36.0,1],['Hγ',5407,35.8,1],['[HeII]',5830,38.2,1],['Hβ',6031,42.0,1],['[OIII]',6427,44.3,1],['HeI',7309,36.2,1],['[NII]',8082,51.7,1],['Hα',8184,51.7,1],['[NII]',8370,51.7,1],['[SII]',8390,36.2,1]];
const p1BlueLabels = [['Hβ',6024,36.5,1],['[OIII]',6401,36.1,1],['Hα',8164,56.9,1]];
const p2Labels = [['[OII]',4622,44.0,1],['[NeIII]',4929,15.4,0],['[SII]',5101,16.5,1],['Hδ',5153,15.8,1],['Hγ',5453,16.0,1],['HeII',5888,16.2,1],['Hβ',6109,22.3,1],['[OIII]',6269,21.1,0],['[NI]',6534,15.6,1],['HeI',7380,15.3,1],['[OI]',7967,14.1,0],['[NII]',8097,41.8,1],['Hα',8181,41.3,1],['[NII]',8378,41.8,1],['[SII]',8467,21.2,0]];
const p3Labels = [['[OII]',4686,18.3,1],['[NeIII]',4922,17.4,0],['Hδ',5160,17.8,1],['Hγ',5461,17.8,1],['HeII',5882,18.2,1],['Hβ',6109,18.0,1],['[OIII]',6278,17.4,0],['[NI]',6540,18.1,1],['HeI',7387,18.0,1],['[OI]',7967,17.4,0],['[NII]',8181,24.4,1],['Hα',8275,26.2,1],['[NII]',8342,24.4,1],['[SII]',8467,17.4,0]];
const p1aLabels = [['Hβ',6139,18.6,0],['[OIII]',6230,18.6,0],['[OIII]',6294,18.6,0]];
const p1bLabels = [['[NII]',8215,65.9,0],['Hα',8259,65.9,0],['[NII]',8295,65.9,0]];
const p2aLabels = [['Hβ',6140,11.2,0],['[OIII]',6227,11.2,0],['[OIII]',6291,11.2,0]];
const p2bLabels = [['[NII]',8219,36.7,0],['Hα',8263,36.7,0],['[NII]',8298,36.7,0],['[SII]',8447,36.7,0]];

// Axis ranges and tick labels
const mainXRange = [4495, 8605];
const p1YRange = [-0.5, 75.6], p2YRange = [-0.4, 47.7], p3YRange = [-0.53, 27.2];
const mainXTicks = [5000, 6000, 7000, 8000];
const p1YTicks = [0, 20, 40, 60], p2YTicks = [0, 10, 20, 30, 40], p3YTicks = [0, 5, 10, 15, 20, 25];
const p1aXRange = [5980, 6330], p1aYRange = [0, 20];
const p1bXRange = [8050, 8400], p1bYRange = [0, 71];
const p2aXRange = [6042, 6350], p2aYRange = [0, 12.85];
const p2bXRange = [8165, 8517], p2bYRange = [0, 40.8];
const p1aXTicks = [6000, 6050, 6100, 6150, 6200, 6250, 6300], p1aYTicks = [5, 10, 15, 20];
const p1bXTicks = [8050, 8100, 8150, 8200, 8250, 8300, 8350, 8400], p1bYTicks = [10, 20, 30, 40, 50, 60, 70];
const p2aXTicks = [6050, 6100, 6150, 6200, 6250, 6300, 6350], p2aYTicks = [2, 4, 6, 8, 10, 12];
const p2bXTicks = [8200, 8300, 8400, 8500], p2bYTicks = [10, 20, 30, 40];

// ---------------- BUILD ----------------
function sampled(start, step, values) { return values.map((v, i) => [start + i * step, v]); }
function range(a, b, s) { const r = []; for (let v = a; v <= b + 1e-9; v += s) r.push(+v.toFixed(6)); return r; }
const plain = v => String(v);

const COL = {grey:'#555555', green:'#3fe23a', orange:'#ff9a3c', blue:'#2038f0', purple:'#6a3ccf', black:'#000', brown:'#5a3716'};
const grids = [], xAxes = [], yAxes = [], series = [];

function addPanel(rect, xr, yr, t, st) {
  const gi = grids.length;
  grids.push(Object.assign({show:true, borderColor: st.border, borderWidth:1, backgroundColor: st.bg || 'transparent', z: st.z, containLabel:false, outerBoundsMode:'none'}, rect));
  const xi = xAxes.length, yi = yAxes.length;
  const common = {type:'value', gridIndex:gi, splitLine:{show:false}, axisLine:{show:false, onZero:false}, z: st.z + 1, silent:true};
  const tick = (vals, len) => ({show:true, inside:true, length:len, customValues: vals, lineStyle:{color: st.tickColor, width:1}});
  const xa = (pos, vals, len, lab) => Object.assign({}, common, {min:xr[0], max:xr[1], position:pos, axisTick:tick(vals, len), axisLabel: lab ? Object.assign({show:true, customValues: t.xLab, formatter: plain}, lab) : {show:false}});
  const ya = (pos, vals, len, lab) => Object.assign({}, common, {min:yr[0], max:yr[1], position:pos, axisTick:tick(vals, len), axisLabel: lab ? Object.assign({show:true, customValues: t.yLab, formatter: plain}, lab) : {show:false}});
  const bx = xa('bottom', t.xMaj, st.xMaj, st.xLabel);
  if (st.xName) Object.assign(bx, st.xName);
  xAxes.push(bx, xa('bottom', t.xMin, st.xMin, null), xa('top', t.xMaj, st.xMaj, null), xa('top', t.xMin, st.xMin, null));
  const ly = ya('left', t.yMaj, st.yMaj, st.yLabel);
  if (st.yName) Object.assign(ly, st.yName);
  yAxes.push(ly, ya('left', t.yMin, st.yMin, null), ya('right', t.yMaj, st.yMaj, null), ya('right', t.yMin, st.yMin, null));
  return {xi, yi};
}
function line(ax, data, color, width, z, opt) {
  opt = opt || {};
  series.push({type:'line', xAxisIndex:ax.xi, yAxisIndex:ax.yi, data, showSymbol:false, symbol:'none', silent:true, animation:false,
    smooth: opt.smooth || 0, smoothMonotone:'x', z, clip:true,
    lineStyle:{color, width, type: opt.dash || 'solid'}});
}
function marks(ax, arr, color, width, z, dash) {
  series.push({type:'custom', xAxisIndex:ax.xi, yAxisIndex:ax.yi, data: arr, silent:true, animation:false, z,
    renderItem: (p, api) => {
      const a = api.coord([api.value(0), api.value(1)]), b = api.coord([api.value(0), api.value(2)]);
      return {type:'line', shape:{x1:a[0], y1:a[1], x2:b[0], y2:b[1]}, style:{stroke:color, lineWidth:width, lineDash: dash || null}};
    }});
}
function texts(ax, arr, color, font, z) {
  series.push({type:'custom', xAxisIndex:ax.xi, yAxisIndex:ax.yi, data: arr.map(a => [a[1], a[2]]), silent:true, animation:false, z,
    renderItem: (p, api) => {
      const a = arr[p.dataIndex]; const c = api.coord([a[1], a[2]]);
      return {type:'text', x:c[0], y:c[1], rotation: a[3] ? Math.PI / 2 : 0,
        style:{text:a[0], fill:color, font, align:'center', verticalAlign:'middle'}};
    }});
}

const mainLabelStyle = {color:'#8c8c8c', fontSize:23, fontFamily:'DejaVu Sans', fontWeight:300};
const yNameStyle = {name:'F (10⁻¹⁷ erg/s/cm²/Å)', nameLocation:'middle', nameGap:64, nameRotate:90,
  nameTextStyle:{color:'#a3a3a3', fontSize:23, fontFamily:'DejaVu Sans', fontWeight:300}};
const mainSt = (yLab, xLab, xName) => ({z:0, border:'#9a9a9a', tickColor:'#9a9a9a', xMaj:12, xMin:7, yMaj:24, yMin:11,
  yLabel: Object.assign({margin:8}, mainLabelStyle), xLabel: xLab ? Object.assign({margin:14}, mainLabelStyle) : null,
  yName: yNameStyle, xName});
const insetSt = {z:10, bg:'#fff', border:'#8a8a8a', tickColor:'#8a8a8a', xMaj:7, xMin:4, yMaj:7, yMin:4,
  xLabel:{margin:6, color:'#333', fontSize:13, fontFamily:'Liberation Serif'},
  yLabel:{margin:5, color:'#333', fontSize:13, fontFamily:'Liberation Serif'}};

const mainXMinor = range(4500, 8600, 100);
const ax1 = addPanel({left:103, top:7, width:1212, height:440}, mainXRange, p1YRange,
  {xLab:mainXTicks, xMaj:mainXTicks, xMin:mainXMinor, yLab:p1YTicks, yMaj:p1YTicks, yMin:range(0, 75, 5)}, mainSt(true, false));
const ax2 = addPanel({left:103, top:452, width:1212, height:441}, mainXRange, p2YRange,
  {xLab:mainXTicks, xMaj:mainXTicks, xMin:mainXMinor, yLab:p2YTicks, yMaj:p2YTicks, yMin:range(0, 47, 1)}, mainSt(true, false));
const ax3 = addPanel({left:103, top:897, width:1212, height:441}, mainXRange, p3YRange,
  {xLab:mainXTicks, xMaj:mainXTicks, xMin:mainXMinor, yLab:p3YTicks, yMaj:p3YTicks, yMin:range(0, 27, 1)},
  mainSt(true, true, {name:'Obs. Wavelength (Å)', nameLocation:'middle', nameGap:50,
    nameTextStyle:{color:'#a3a3a3', fontSize:26, fontFamily:'DejaVu Sans', fontWeight:300}}));
const axA = addPanel({left:151, top:15, width:357, height:149}, p1aXRange, p1aYRange,
  {xLab:p1aXTicks, xMaj:p1aXTicks, xMin:range(5980, 6330, 10), yLab:p1aYTicks, yMaj:[0,5,10,15,20], yMin:range(0, 20, 1)}, insetSt);
const axB = addPanel({left:723, top:15, width:358, height:149}, p1bXRange, p1bYRange,
  {xLab:p1bXTicks, xMaj:p1bXTicks, xMin:range(8050, 8400, 10), yLab:p1bYTicks, yMaj:range(0, 70, 10), yMin:range(0, 70, 2)}, insetSt);
const axC = addPanel({left:212, top:460, width:366, height:149}, p2aXRange, p2aYRange,
  {xLab:p2aXTicks, xMaj:p2aXTicks, xMin:range(6050, 6350, 10), yLab:p2aYTicks, yMaj:range(0, 12, 2), yMin:range(0, 12.5, 0.5)}, insetSt);
const axD = addPanel({left:652, top:460, width:357, height:149}, p2bXRange, p2bYRange,
  {xLab:p2bXTicks, xMaj:p2bXTicks, xMin:range(8170, 8510, 10), yLab:p2bYTicks, yMaj:range(0, 40, 10), yMin:range(0, 40, 2)}, insetSt);

// Panel 1
line(ax1, sampled(OBS_START, OBS_STEP, p1Observed), COL.grey, 1.3, 2);
line(ax1, p1Model, COL.green, 1.8, 3, {smooth:0.3});
line(ax1, p1FeTemplate, COL.purple, 1.5, 4, {smooth:0.3});
line(ax1, p1BroadOrange, COL.orange, 1.5, 4, {smooth:0.35});
line(ax1, p1BroadBlue, COL.blue, 1.5, 4, {smooth:0.35});
line(ax1, p1NarrowBlack, COL.black, 1.5, 5, {smooth:0.3});
line(ax1, zeroLine, COL.black, 3, 6);
marks(ax1, p1Marks, '#4a4a4a', 1.5, 6);
marks(ax1, p1BlueMarks, '#3a46e6', 1.5, 6);
texts(ax1, p1Labels, '#151515', '17px "Liberation Serif"', 7);
texts(ax1, p1BlueLabels, '#2633e8', '17px "Liberation Serif"', 7);

// Panel 2
line(ax2, sampled(OBS_START, OBS_STEP, p2Observed), COL.grey, 1.3, 2);
line(ax2, p2Model, COL.green, 1.8, 3, {smooth:0.3});
line(ax2, p2BroadOrange, COL.orange, 1.5, 4, {smooth:0.35});
line(ax2, p2NarrowBlack, COL.black, 1.5, 5, {smooth:0.3});
line(ax2, zeroLine, COL.brown, 2.5, 6);
marks(ax2, p2Marks, '#4a4a4a', 1.5, 6);
texts(ax2, p2Labels, '#151515', '17px "Liberation Serif"', 7);

// Panel 3
marks(ax3, p3DottedLine, '#9a9a9a', 1, 1, [2, 3]);
line(ax3, sampled(OBS_START, OBS_STEP, p3Observed), COL.grey, 1.3, 2);
line(ax3, p3Model, COL.green, 1.8, 3, {smooth:0.3});
line(ax3, p3NarrowBlack, COL.black, 1.5, 5, {smooth:0.3});
line(ax3, zeroLine, COL.black, 1.5, 6);
marks(ax3, p3Marks, '#4a4a4a', 1.5, 6);
texts(ax3, p3Labels, '#151515', '17px "Liberation Serif"', 7);

// Insets
const dash = [7, 5];
line(axA, sampled(p1aStart, p1aStep, p1aObserved), '#6a6a6a', 1, 12);
line(axA, p1aBroadOrange, COL.orange, 2.5, 14, {dash, smooth:0.3});
line(axA, p1aBroadBlue, COL.blue, 2.5, 14, {dash, smooth:0.3});
line(axA, p1aNarrowBlack, COL.black, 2.5, 14, {dash, smooth:0.3});
line(axA, p1aModel, COL.green, 2.5, 15, {smooth:0.3});
texts(axA, p1aLabels, '#333', '13px "Liberation Serif"', 16);

line(axB, sampled(p1bStart, p1bStep, p1bObserved), '#6a6a6a', 1, 12);
line(axB, p1bBroadOrange, COL.orange, 2.5, 14, {dash, smooth:0.3});
line(axB, p1bBroadBlue, COL.blue, 2.5, 14, {dash, smooth:0.3});
line(axB, p1bNarrowBlack, COL.black, 2.5, 14, {dash, smooth:0.3});
line(axB, p1bModel, COL.green, 2.5, 15, {smooth:0.3});
texts(axB, p1bLabels, '#333', '13px "Liberation Serif"', 16);

line(axC, sampled(p2aStart, p2aStep, p2aObserved), '#6a6a6a', 1, 12);
line(axC, p2aBroadOrange, COL.orange, 2.5, 14, {dash, smooth:0.3});
line(axC, p2aNarrowBlack, COL.black, 2.5, 14, {dash, smooth:0.3});
line(axC, p2aModel, COL.green, 2.5, 15, {smooth:0.3});
texts(axC, p2aLabels, '#333', '13px "Liberation Serif"', 16);

line(axD, sampled(p2bStart, p2bStep, p2bObserved), '#6a6a6a', 1, 12);
line(axD, p2bBroadOrange, COL.orange, 2.5, 14, {dash, smooth:0.3});
line(axD, p2bNarrowBlack, COL.black, 2.5, 14, {dash, smooth:0.3});
line(axD, p2bModel, COL.green, 2.5, 15, {smooth:0.3});
texts(axD, p2bLabels, '#333', '13px "Liberation Serif"', 16);

const chart = echarts.init(document.getElementById('c'), null, {renderer:'canvas'});
chart.setOption({animation:false, backgroundColor:'#fff', textStyle:{fontFamily:'DejaVu Sans'},
  grid: grids, xAxis: xAxes, yAxis: yAxes, series});
</script></body></html>
